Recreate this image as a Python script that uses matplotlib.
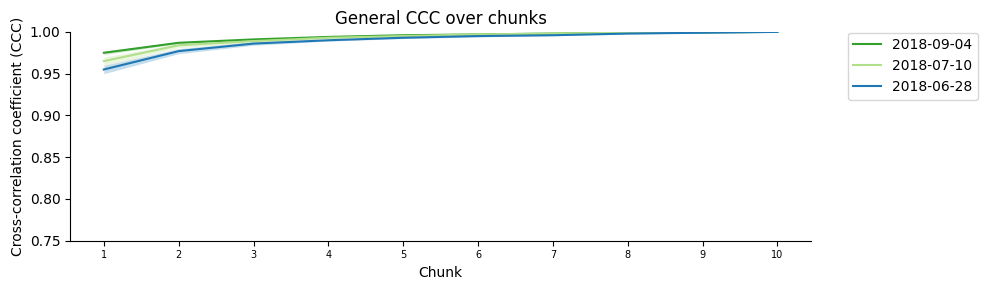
import numpy as np
import matplotlib.pyplot as plt

chunks = [1, 2, 3, 4, 5, 6, 7, 8, 9, 10]

labels = ["2018-09-04", "2018-07-10", "2018-06-28"]
colors = ["#33a02c", "#b2df8a", "#1f78b4"]

mean_0904 = [0.975, 0.987, 0.991, 0.994, 0.996, 0.997, 0.998, 0.999, 0.9995, 1.0]
low_0904 = [0.973, 0.986, 0.990, 0.993, 0.9955, 0.9965, 0.9975, 0.9985, 0.9992, 1.0]
high_0904 = [0.977, 0.988, 0.992, 0.995, 0.9965, 0.9975, 0.9985, 0.9995, 0.9998, 1.0]

mean_0710 = [0.965, 0.984, 0.989, 0.993, 0.995, 0.997, 0.998, 0.999, 0.9995, 1.0]
low_0710 = [0.960, 0.981, 0.987, 0.992, 0.994, 0.996, 0.9975, 0.9985, 0.9992, 1.0]
high_0710 = [0.970, 0.986, 0.991, 0.994, 0.996, 0.998, 0.9985, 0.9995, 0.9998, 1.0]

mean_0628 = [0.955, 0.977, 0.986, 0.990, 0.993, 0.995, 0.996, 0.998, 0.999, 1.0]
low_0628 = [0.950, 0.974, 0.984, 0.989, 0.992, 0.994, 0.9955, 0.9975, 0.9987, 1.0]
high_0628 = [0.960, 0.980, 0.988, 0.991, 0.994, 0.996, 0.9965, 0.9985, 0.9993, 1.0]

means = [mean_0904, mean_0710, mean_0628]
lows = [low_0904, low_0710, low_0628]
highs = [high_0904, high_0710, high_0628]

fig, ax = plt.subplots(figsize=(9.88, 2.9), dpi=100)
for lab, c, m, lo, hi in zip(labels, colors, means, lows, highs):
    ax.fill_between(chunks, lo, hi, color=c, alpha=0.25, lw=0)
    ax.plot(chunks, m, color=c, lw=1.5, label=lab)

ax.set_xlim(0.55, 10.45)
ax.set_ylim(0.75, 1.0)
ax.set_xticks(chunks)
ax.tick_params(axis='x', labelsize=7)
ax.set_xlabel("Chunk")
ax.set_ylabel("Cross-correlation coefficient (CCC)")
ax.set_title("General CCC over chunks")
ax.spines['top'].set_visible(False)
ax.spines['right'].set_visible(False)
ax.legend(loc='upper left', bbox_to_anchor=(1.04, 1.03))

fig.subplots_adjust(left=0.071, right=0.821, top=0.89, bottom=0.17)
fig.savefig("out.png")
